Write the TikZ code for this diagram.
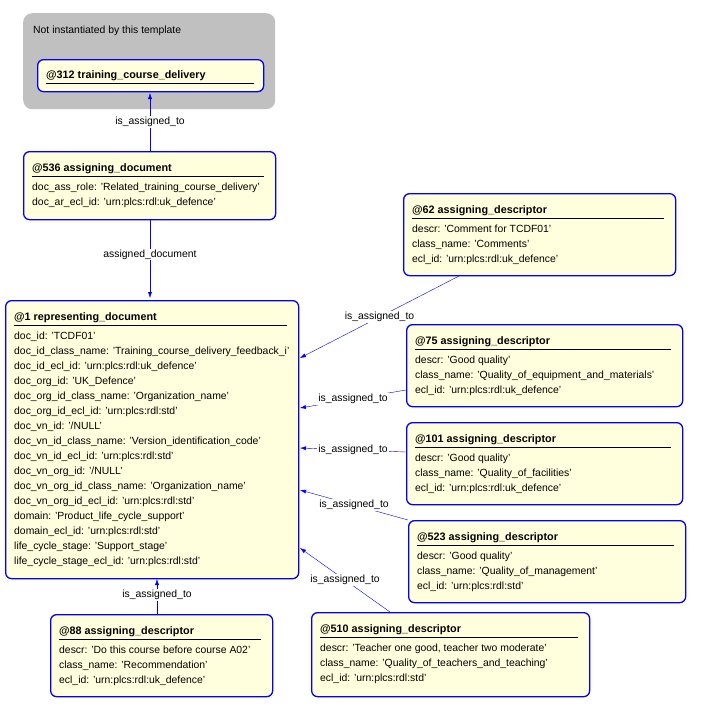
\documentclass[tikz,border=0pt]{standalone}
\usepackage{fontspec}
\setmainfont{Liberation Sans}
\usetikzlibrary{arrows.meta}
\definecolor{by}{HTML}{FFFFDD}
\definecolor{gb}{HTML}{C0C0C0}
\tikzset{x=1pt,y=-1pt,
 box/.style={draw=blue,fill=by,line width=1.3pt,rounded corners=6pt,anchor=north west,inner sep=0},
 grp/.style={fill=gb,rounded corners=9pt,anchor=north west,inner sep=0},
 ttl/.style={anchor=north west,inner sep=0,font=\fontsize{10.8}{15}\selectfont\bfseries},
 att/.style={anchor=north west,inner sep=0,align=left,font=\fontsize{10.4}{15}\selectfont},
 con/.style={draw=blue,-{Latex[length=6pt,width=4pt]}},
 lab/.style={fill=white,inner sep=1pt,font=\fontsize{10.4}{12}\selectfont}}
\newcommand{\ubox}[7]{% name x y w h title lines
 \node[box,minimum width=#4,minimum height=#5] (#1) at (#2,#3) {};
 \node[ttl] (#1t) at ([shift={(9,12)}]#1.north west) {#6};
 \draw ([shift={(0,3)}]#1t.south west) -- ++(#4-20,0);
 \node[att] (#1a) at ([shift={(0,9)}]#1t.south west) {#7};}
\begin{document}
\begin{tikzpicture}
\useasboundingbox (0,0) rectangle (727,716);
\node[grp,minimum width=252,minimum height=96] (g) at (23,13) {};
\node[att] (gt) at (33,26) {Not instantiated by this template};
\node[box,minimum width=226,minimum height=32] (n312) at (37,59) {};
\node[ttl] (n312t) at (46,70) {@312 training\_course\_delivery};
\draw ([shift={(0,3)}]n312t.south west) -- ++(208,0);
\ubox{n536}{23}{151}{252}{68}{@536 assigning\_document}{doc\_ass\_role: 'Related\_training\_course\_delivery'\\doc\_ar\_ecl\_id: 'urn:plcs:rdl:uk\_defence'}
\ubox{n62}{403}{193}{272}{82}{@62 assigning\_descriptor}{descr: 'Comment for TCDF01'\\class\_name: 'Comments'\\ecl\_id: 'urn:plcs:rdl:uk\_defence'}
\ubox{n1}{5}{300}{293}{278}{@1 representing\_document}{doc\_id: 'TCDF01'\\doc\_id\_class\_name: 'Training\_course\_delivery\_feedback\_i'\\doc\_id\_ecl\_id: 'urn:plcs:rdl:uk\_defence'\\doc\_org\_id: 'UK\_Defence'\\doc\_org\_id\_class\_name: 'Organization\_name'\\doc\_org\_id\_ecl\_id: 'urn:plcs:rdl:std'\\doc\_vn\_id: '/NULL'\\doc\_vn\_id\_class\_name: 'Version\_identification\_code'\\doc\_vn\_id\_ecl\_id: 'urn:plcs:rdl:std'\\doc\_vn\_org\_id: '/NULL'\\doc\_vn\_org\_id\_class\_name: 'Organization\_name'\\doc\_vn\_org\_id\_ecl\_id: 'urn:plcs:rdl:std'\\domain: 'Product\_life\_cycle\_support'\\domain\_ecl\_id: 'urn:plcs:rdl:std'\\life\_cycle\_stage: 'Support\_stage'\\life\_cycle\_stage\_ecl\_id: 'urn:plcs:rdl:std'}
\ubox{n75}{406}{324}{276}{82}{@75 assigning\_descriptor}{descr: 'Good quality'\\class\_name: 'Quality\_of\_equipment\_and\_materials'\\ecl\_id: 'urn:plcs:rdl:uk\_defence'}
\ubox{n101}{406}{422}{276}{82}{@101 assigning\_descriptor}{descr: 'Good quality'\\class\_name: 'Quality\_of\_facilities'\\ecl\_id: 'urn:plcs:rdl:uk\_defence'}
\ubox{n523}{408}{520}{277}{82}{@523 assigning\_descriptor}{descr: 'Good quality'\\class\_name: 'Quality\_of\_management'\\ecl\_id: 'urn:plcs:rdl:std'}
\ubox{n88}{50}{614}{222}{82}{@88 assigning\_descriptor}{descr: 'Do this course before course A02'\\class\_name: 'Recommendation'\\ecl\_id: 'urn:plcs:rdl:uk\_defence'}
\ubox{n510}{311}{612}{278}{84}{@510 assigning\_descriptor}{descr: 'Teacher one good, teacher two moderate'\\class\_name: 'Quality\_of\_teachers\_and\_teaching'\\ecl\_id: 'urn:plcs:rdl:std'}
\coordinate (t1) at (150,298); \coordinate (t2) at (300,358); \coordinate (t3) at (300,408);
\coordinate (t4) at (300,448); \coordinate (t5) at (300,490); \coordinate (t6) at (300,548);
\coordinate (t7) at (157,579); \coordinate (t0) at (150,93);
\coordinate (s62) at (459,276); \coordinate (s75) at (406,390); \coordinate (s101) at (406,452);
\coordinate (s523) at (408,520); \coordinate (s510) at (390,612); \coordinate (s88) at (157,614);
\coordinate (s536) at (150,151); \coordinate (b536) at (150,219);
\draw[con] (s536) -- node[lab] {is\_assigned\_to} (t0);
\draw[con] (b536) -- node[lab,pos=0.45] {assigned\_document} (t1);
\draw[con] (s62) -- node[lab,pos=0.5] {is\_assigned\_to} (t2);
\draw[con] (s75) -- node[lab,pos=0.5] {is\_assigned\_to} (t3);
\draw[con] (s101) -- node[lab,pos=0.5] {is\_assigned\_to} (t4);
\draw[con] (s523) -- node[lab,pos=0.5] {is\_assigned\_to} (t5);
\draw[con] (s510) -- node[lab,pos=0.5] {is\_assigned\_to} (t6);
\draw[con] (s88) -- node[lab,pos=0.55] {is\_assigned\_to} (t7);
\end{tikzpicture}
\end{document}
